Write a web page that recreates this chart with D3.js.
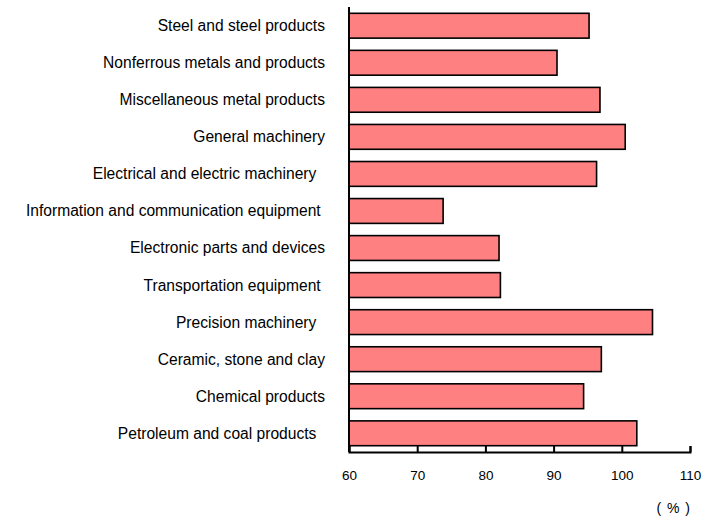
<!DOCTYPE html>
<html>
<head>
<meta charset="utf-8">
<script src="https://cdn.jsdelivr.net/npm/d3@7"></script>
<style>
  html, body { margin: 0; padding: 0; background: #fff; }
  svg { display: block; font-family: "Liberation Sans", Arial, sans-serif; }
  .cat { white-space: pre; }
</style>
</head>
<body>
<svg id="chart" width="717" height="516"></svg>
<script>
// Industry categories, top to bottom (trailing spaces kept as in the source labels)
const categories = [
  "Steel and steel products",
  "Nonferrous metals and products",
  "Miscellaneous metal products",
  "General machinery",
  "Electrical and electric machinery  ",
  "Information and communication equipment ",
  "Electronic parts and devices",
  "Transportation equipment ",
  "Precision machinery  ",
  "Ceramic, stone and clay",
  "Chemical products",
  "Petroleum and coal products  "
];

// Values in percent
const values = [95.2, 90.5, 96.8, 100.5, 96.3, 73.8, 82.0, 82.2, 104.5, 97.0, 94.4, 102.2];

// Axis ticks
const xTicks = [60, 70, 80, 90, 100, 110];
const unitLabel = "( % )";

const svg = d3.select("#chart");

const x = d3.scaleLinear().domain([60, 110]).range([349, 690]);
const y = d3.scaleBand()
  .domain(categories)
  .range([7, 452])
  .paddingInner(0.33)
  .paddingOuter(0.17);

// Bars
svg.append("g")
  .selectAll("rect")
  .data(categories)
  .join("rect")
  .attr("x", x(60))
  .attr("y", d => y(d))
  .attr("width", (d, i) => x(values[i]) - x(60))
  .attr("height", y.bandwidth())
  .attr("fill", "#FF8080")
  .attr("stroke", "#000")
  .attr("stroke-width", 1.6);

// Category labels
svg.append("g")
  .selectAll("text")
  .data(categories)
  .join("text")
  .attr("class", "cat")
  .attr("x", 325)
  .attr("y", d => y(d) + y.bandwidth() / 2)
  .attr("dy", "0.35em")
  .attr("text-anchor", "end")
  .attr("font-size", 15.6)
  .attr("fill", "#000")
  .text(d => d);

// Vertical axis line
svg.append("line")
  .attr("x1", x(60)).attr("x2", x(60))
  .attr("y1", 7).attr("y2", 452)
  .attr("stroke", "#000")
  .attr("stroke-width", 2);

// Horizontal axis with inward ticks
const xAxis = d3.axisBottom(x)
  .tickValues(xTicks)
  .tickSizeInner(-6)
  .tickSizeOuter(-6)
  .tickFormat(d3.format("d"))
  .tickPadding(0);

const gx = svg.append("g")
  .attr("transform", "translate(0,452)")
  .call(xAxis);

gx.select(".domain").attr("stroke", "#000").attr("stroke-width", 2);
gx.selectAll(".tick line").attr("stroke", "#000").attr("stroke-width", 2);
gx.selectAll(".tick text")
  .attr("y", 28)
  .attr("dy", 0)
  .attr("font-size", 13.5)
  .attr("font-family", "\"Liberation Sans\", Arial, sans-serif")
  .attr("fill", "#000");

// Unit label
svg.append("text")
  .attr("x", 691)
  .attr("y", 513)
  .attr("text-anchor", "end")
  .attr("font-size", 14)
  .attr("letter-spacing", 1)
  .attr("fill", "#000")
  .text(unitLabel);
</script>
</body>
</html>
